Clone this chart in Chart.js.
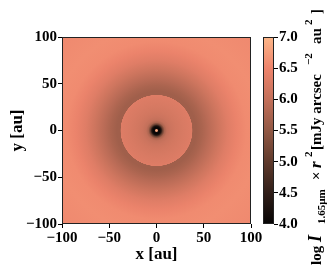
<!DOCTYPE html>
<html>
<head>
<meta charset="utf-8">
<script src="https://cdn.jsdelivr.net/npm/chart.js@4.4.0/dist/chart.umd.min.js"></script>
<style>
html,body{margin:0;padding:0;background:#fff}
#wrap{position:relative;width:330px;height:268px}
canvas{position:absolute;left:0;top:0}
</style>
</head>
<body>
<div id="wrap">
<canvas id="img" width="330" height="268"></canvas>
<canvas id="cbar" width="330" height="268"></canvas>
</div>
<script>
const xTicks=[-100,-50,0,50,100]
const yTicks=[-100,-50,0,50,100]
const cbTicks=[4.0,4.5,5.0,5.5,6.0,6.5,7.0]

// radial profile: radius [au] -> log I x r^2
const radius=[0,1,2,3.5,5,6.5,8.5,11,15,20,28,36,37.8,38.2,42,48,55,65,75,85,95,110,141.5]
const logIr2=[7.0,6.8,4.1,4.0,4.3,5.1,5.75,6.0,6.1,6.18,6.24,6.3,6.32,5.65,5.65,5.75,5.9,6.12,6.32,6.47,6.57,6.6,6.55]

// colour bar (copper-like)
const cmapVal=[4.0,4.5,5.0,5.5,6.0,6.5,7.0]
const cmapRGB=[[6,4,4],[48,30,24],[95,58,44],[145,88,68],[195,112,90],[238,132,108],[252,182,136]]

const fontFam='"Liberation Serif","Times New Roman",serif'

function colorOf(v){
    v=Math.max(cmapVal[0],Math.min(cmapVal[cmapVal.length-1],v))
    let i=0
    while(i<cmapVal.length-2 && v>cmapVal[i+1]) i++
    const t=(v-cmapVal[i])/(cmapVal[i+1]-cmapVal[i])
    const a=cmapRGB[i],b=cmapRGB[i+1]
    const c=a.map((q,k)=>Math.round(q+(b[k]-q)*t))
    return "rgb("+c.join(",")+")"
}

function minus(v){
    return String(v).replace("-","\u2212")
}

const frame={
    id:"frame",
    afterDraw(chart){
        const {ctx,chartArea:a}=chart
        ctx.save()
        ctx.strokeStyle="#222"
        ctx.lineWidth=1
        ctx.strokeRect(a.left+0.5,a.top+0.5,a.right-a.left-1,a.bottom-a.top-1)
        ctx.restore()
    }
}

const heat={
    id:"heat",
    beforeDatasetsDraw(chart){
        const {ctx,chartArea:a,scales:{x,y}}=chart
        const cx=x.getPixelForValue(0), cy=y.getPixelForValue(0)
        const sx=x.getPixelForValue(1)-cx, sy=cy-y.getPixelForValue(1)
        const rMax=radius[radius.length-1]
        ctx.save()
        ctx.beginPath()
        ctx.rect(a.left,a.top,a.right-a.left,a.bottom-a.top)
        ctx.clip()
        ctx.translate(cx,cy)
        ctx.scale(sx,sy)
        const g=ctx.createRadialGradient(0,0,0,0,0,rMax)
        radius.forEach((r,i)=>g.addColorStop(r/rMax,colorOf(logIr2[i])))
        ctx.fillStyle=g
        ctx.fillRect(-rMax,-rMax,2*rMax,2*rMax)
        ctx.restore()
    }
}

const tickFont={family:fontFam,size:15,weight:"bold"}
const titleFont={family:fontFam,size:17,weight:"bold"}

const imgChart=new Chart(document.querySelector("#img").getContext("2d"),{
    type:"scatter",
    data:{datasets:[{data:[]}]},
    options:{
        responsive:false,
        animation:false,
        layout:{padding:{top:37,right:79,left:0,bottom:0}},
        plugins:{legend:{display:false},tooltip:{enabled:false}},
        scales:{
            x:{
                type:"linear",min:-100,max:100,
                afterBuildTicks:s=>{s.ticks=xTicks.map(v=>({value:v}))},
                afterFit:s=>{s.height=44},
                ticks:{font:tickFont,color:"#000",padding:1,maxRotation:0,callback:v=>minus(v)},
                grid:{drawOnChartArea:false,tickLength:4,color:"#000"},
                border:{display:false},
                title:{display:true,text:"x [au]",font:titleFont,color:"#000",padding:{top:0,bottom:3}}
            },
            y:{
                type:"linear",min:-100,max:100,
                afterBuildTicks:s=>{s.ticks=yTicks.map(v=>({value:v}))},
                afterFit:s=>{s.width=62},
                ticks:{font:tickFont,color:"#000",padding:1,callback:v=>minus(v)},
                grid:{drawOnChartArea:false,tickLength:4,color:"#000"},
                border:{display:false},
                title:{display:true,text:"y [au]",font:titleFont,color:"#000",padding:{top:7,bottom:0}}
            }
        }
    },
    plugins:[heat,frame]
})

const cbFill={
    id:"cbFill",
    beforeDatasetsDraw(chart){
        const {ctx,chartArea:a,scales:{y}}=chart
        const g=ctx.createLinearGradient(0,y.getPixelForValue(cmapVal[0]),0,y.getPixelForValue(cmapVal[cmapVal.length-1]))
        cmapVal.forEach((v,i)=>g.addColorStop(i/(cmapVal.length-1),colorOf(v)))
        ctx.save()
        ctx.fillStyle=g
        ctx.fillRect(a.left,a.top,a.right-a.left,a.bottom-a.top)
        ctx.restore()
    }
}

// colour-bar label with sub/superscripts, rotated
const cbLabel=[
    {t:"log",at:265,size:15,style:"bold",dy:0},
    {t:"I",at:242,size:18,style:"italic bold",dy:0},
    {t:"1.65\u00b5m",at:224,size:11,style:"bold",dy:4},
    {t:"\u00d7",at:180,size:15,style:"bold",dy:0},
    {t:"r",at:168,size:17,style:"italic bold",dy:0},
    {t:"2",at:157,size:11,style:"bold",dy:-9},
    {t:"[mJy arcsec",at:150,size:15,style:"bold",dy:0},
    {t:"\u22122",at:65,size:11,style:"bold",dy:-9},
    {t:"au",at:44,size:15,style:"bold",dy:0},
    {t:"2",at:25,size:11,style:"bold",dy:-9},
    {t:"]",at:14,size:15,style:"bold",dy:0}
]

const cbTitle={
    id:"cbTitle",
    afterDraw(chart){
        const ctx=chart.ctx
        ctx.save()
        ctx.translate(321,0)
        ctx.rotate(-Math.PI/2)
        ctx.fillStyle="#000"
        ctx.textBaseline="alphabetic"
        cbLabel.forEach(p=>{
            ctx.font=p.style+" "+p.size+"px "+fontFam
            ctx.fillText(p.t,-p.at,p.dy)
        })
        ctx.restore()
    }
}

const cbChart=new Chart(document.querySelector("#cbar").getContext("2d"),{
    type:"scatter",
    data:{datasets:[{data:[]}]},
    options:{
        responsive:false,
        animation:false,
        layout:{padding:{top:37,right:0,left:263,bottom:44}},
        plugins:{legend:{display:false},tooltip:{enabled:false}},
        scales:{
            x:{type:"linear",display:false,min:0,max:1},
            y:{
                type:"linear",position:"right",min:4,max:7,
                afterBuildTicks:s=>{s.ticks=cbTicks.map(v=>({value:v}))},
                afterFit:s=>{s.width=56},
                ticks:{font:tickFont,color:"#000",padding:1,callback:v=>v.toFixed(1)},
                grid:{drawOnChartArea:false,tickLength:4,color:"#000"},
                border:{display:false}
            }
        }
    },
    plugins:[cbFill,frame,cbTitle]
})
</script>
</body>
</html>
